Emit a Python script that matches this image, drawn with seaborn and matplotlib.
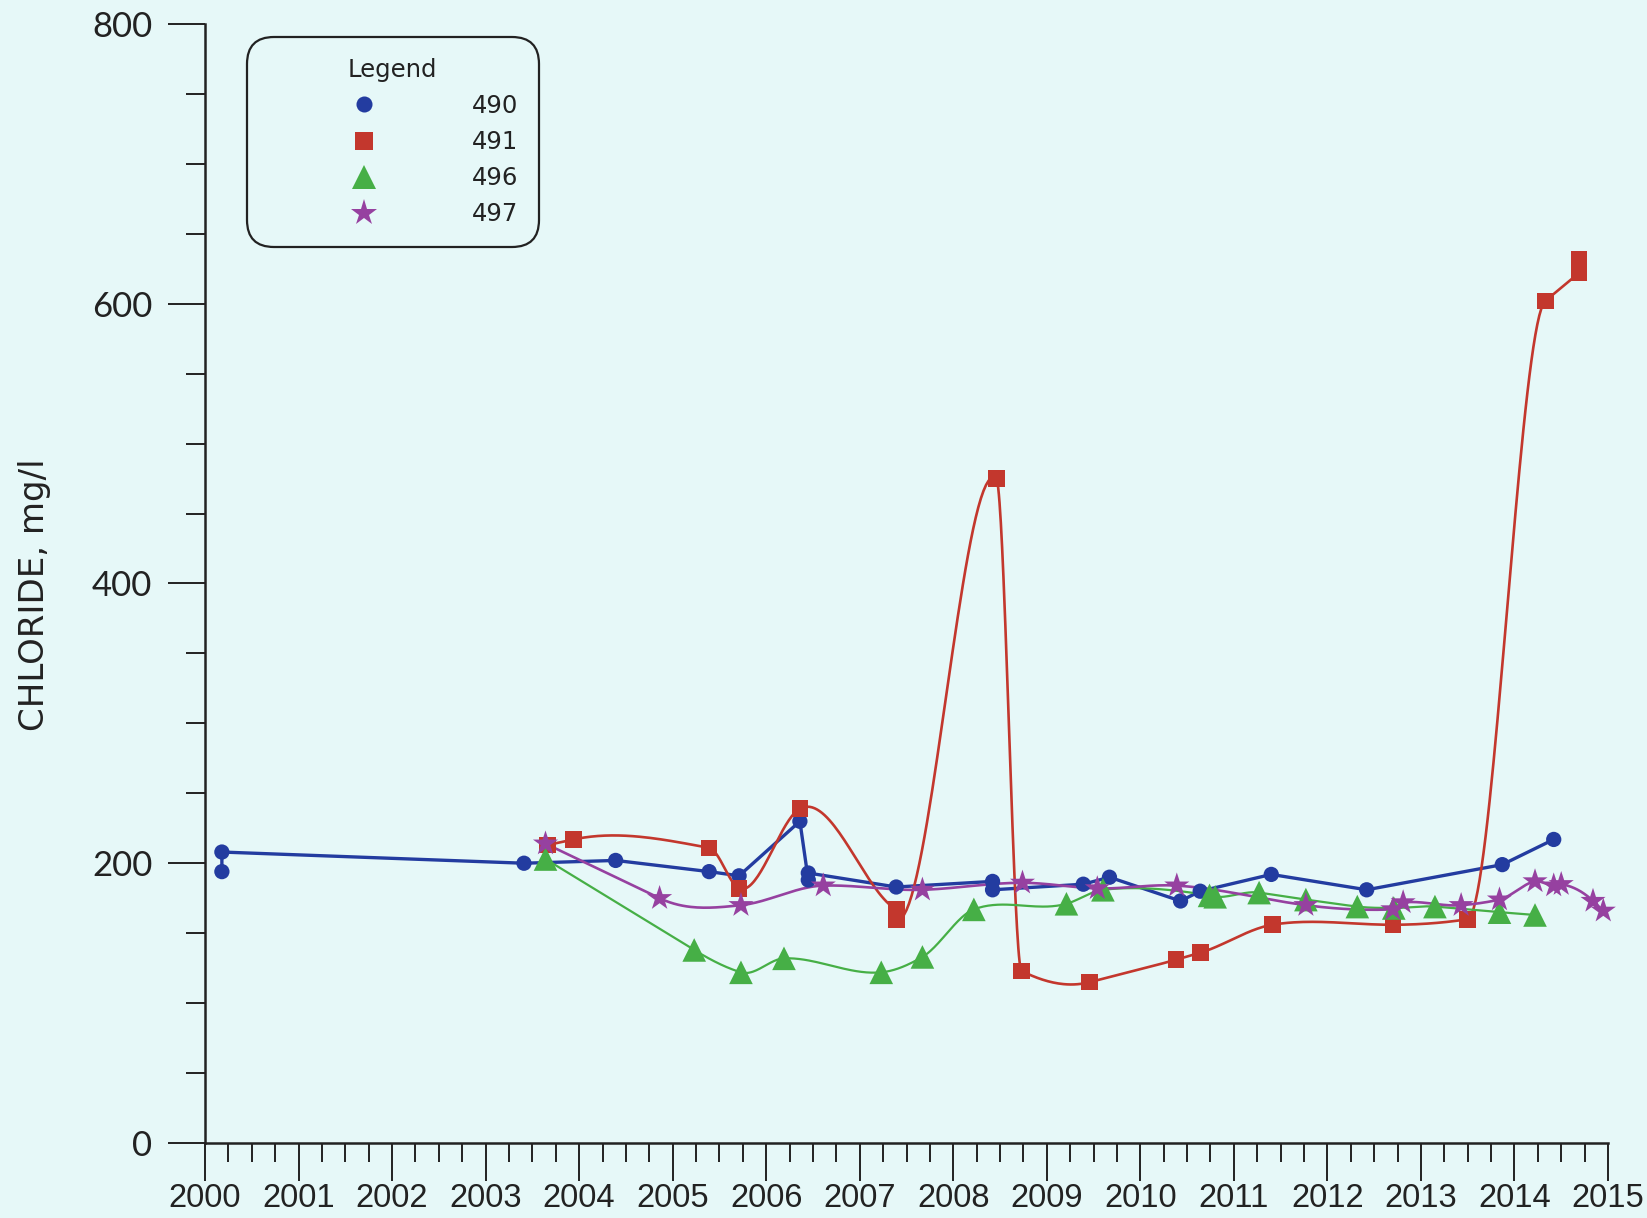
import numpy as np
import pandas as pd
import matplotlib
matplotlib.use('Agg')
import matplotlib.pyplot as plt
import seaborn as sns
from matplotlib.lines import Line2D
from matplotlib.ticker import MultipleLocator

# chloride samples per well (decimal year, mg/l)
dates_490 = [2000.18, 2000.18, 2003.41, 2004.39, 2005.39, 2005.71, 2006.36, 2006.45, 2006.45, 2007.39,
             2008.42, 2008.42, 2009.39, 2009.67, 2010.43, 2010.64, 2011.40, 2012.42, 2013.87, 2014.42]
chloride_490 = [194, 208, 200, 202, 194, 191, 230, 188, 193, 183,
                187, 181, 185, 190, 173, 180, 192, 181, 199, 217]

dates_491 = [2003.66, 2003.94, 2005.39, 2005.71, 2006.36, 2007.39, 2007.39, 2008.46, 2008.73,
             2009.46, 2010.38, 2010.64, 2011.41, 2012.70, 2013.50, 2014.33, 2014.69, 2014.69]
chloride_491 = [213, 217, 211, 182, 239, 167, 160, 475, 123,
                115, 131, 136, 156, 156, 160, 602, 622, 632]

dates_496 = [2003.64, 2005.23, 2005.73, 2006.19, 2007.23, 2007.67, 2008.22, 2009.21, 2009.60,
             2010.74, 2010.80, 2011.27, 2011.77, 2012.32, 2012.71, 2013.15, 2013.84, 2014.22]
chloride_496 = [203, 138, 122, 132, 122, 133, 167, 171, 181,
                177, 176, 179, 174, 169, 168, 169, 165, 163]

dates_497 = [2003.64, 2004.86, 2005.73, 2006.61, 2007.67, 2008.74, 2009.54, 2010.39, 2011.77,
             2012.70, 2012.81, 2013.43, 2013.84, 2014.22, 2014.42, 2014.50, 2014.84, 2014.95]
chloride_497 = [214, 175, 170, 184, 181, 186, 182, 184, 170,
                167, 172, 170, 174, 187, 184, 185, 173, 166]

wells = ['490', '491', '496', '497']
year_labels = [str(y) for y in range(2000, 2016)]

BG = '#e6f8f8'
styles = {
    '490': dict(color='#233ca0', marker='o', ms=11, lw=2.4, smooth=False),
    '491': dict(color='#c3372d', marker='s', ms=12, lw=1.9, smooth=True),
    '496': dict(color='#46af46', marker='^', ms=17, lw=1.6, smooth=True),
    '497': dict(color='#9641a0', marker='*', ms=19, lw=1.9, smooth=True),
}


def smooth_curve(xs, ys, n=40):
    # Akima-type curve for drawing the line; samples on the same date form a vertical step
    nx, yl, yr = [], [], []
    for x, y in zip(xs, ys):
        if nx and abs(x - nx[-1]) < 1e-9:
            yr[-1] = y
        else:
            nx.append(x); yl.append(y); yr.append(y)
    nx, yl, yr = np.array(nx), np.array(yl, float), np.array(yr, float)
    h = np.diff(nx)
    m = (yl[1:] - yr[:-1]) / h
    mm = np.concatenate([[m[0], m[0]], m, [m[-1], m[-1]]])
    t = []
    for i in range(len(nx)):
        a, b, c, d = mm[i], mm[i + 1], mm[i + 2], mm[i + 3]
        w1, w2 = abs(d - c), abs(b - a)
        t.append((w1 * b + w2 * c) / (w1 + w2) if w1 + w2 > 1e-9 else 0.5 * (b + c))
    px, py = [nx[0]], [yl[0]]
    s = np.linspace(0, 1, n)
    for i in range(len(h)):
        h00 = 2 * s**3 - 3 * s**2 + 1
        h10 = s**3 - 2 * s**2 + s
        h01 = -2 * s**3 + 3 * s**2
        h11 = s**3 - s**2
        px.extend(nx[i] + s * h[i])
        py.extend(h00 * yr[i] + h10 * h[i] * t[i] + h01 * yl[i + 1] + h11 * h[i] * t[i + 1])
    px.append(nx[-1]); py.append(yr[-1])
    return np.array(px), np.array(py)


df = pd.concat([
    pd.DataFrame({'date': d, 'chloride': c, 'well': w})
    for w, d, c in zip(wells, [dates_490, dates_491, dates_496, dates_497],
                       [chloride_490, chloride_491, chloride_496, chloride_497])
], ignore_index=True)

sns.set_style('ticks')
plt.rcParams['font.family'] = ['DejaVu Sans']

fig = plt.figure(figsize=(16.47, 12.18), dpi=100, facecolor=BG)
ax = fig.add_axes([0.1245, 0.0616, 0.8518, 0.9187])
ax.set_facecolor(BG)

for w in wells:
    st = styles[w]
    sub = df[df['well'] == w]
    if st['smooth']:
        lx, ly = smooth_curve(sub['date'].values, sub['chloride'].values)
    else:
        lx, ly = sub['date'].values, sub['chloride'].values
    sns.lineplot(x=lx, y=ly, sort=False, estimator=None, color=st['color'],
                 lw=st['lw'], ax=ax, zorder=2)

for w in wells:
    st = styles[w]
    sub = df[df['well'] == w]
    sns.scatterplot(data=sub, x='date', y='chloride', marker=st['marker'], s=st['ms']**2,
                    color=st['color'], edgecolor='none', linewidth=0, ax=ax,
                    zorder=3, clip_on=False, legend=False)

ax.set_xlim(2000, 2015)
ax.set_ylim(0, 800)
ax.xaxis.set_major_locator(MultipleLocator(1))
ax.xaxis.set_minor_locator(MultipleLocator(0.25))
ax.yaxis.set_major_locator(MultipleLocator(200))
ax.yaxis.set_minor_locator(MultipleLocator(50))
ax.set_xticks(range(2000, 2016))
ax.set_xticklabels(year_labels, fontfamily='Liberation Sans', fontsize=23.5, color='#222222')
ax.set_yticks([0, 200, 400, 600, 800])
ax.set_yticklabels(['0', '200', '400', '600', '800'], fontfamily='Lato', fontsize=25, color='#222222')

ax.tick_params(axis='both', which='major', length=27, width=1.4, color='#222222')
ax.tick_params(axis='both', which='minor', length=14, width=1.4, color='#222222')
ax.tick_params(axis='x', which='major', pad=2)
ax.tick_params(axis='y', which='major', pad=11)

sns.despine(ax=ax)
for side in ['left', 'bottom']:
    ax.spines[side].set_linewidth(1.8)
    ax.spines[side].set_color('#222222')

ax.set_xlabel('')
ax.set_ylabel('CHLORIDE, mg/l', fontsize=24.5, fontfamily='DejaVu Sans', color='#222222')
ax.yaxis.set_label_coords(-0.1098, 0.49)

handles = [Line2D([], [], ls='none', marker=styles[w]['marker'], color=styles[w]['color'],
                  markersize=styles[w]['ms'] * 1.05, markeredgewidth=0) for w in wells]
leg = ax.legend(handles, wells, title='Legend', loc='upper left',
                bbox_to_anchor=(0.030, 0.988), borderaxespad=0, frameon=True,
                fontsize=17.5, title_fontsize=17.5, borderpad=0.84, handlelength=7.9,
                handletextpad=0.5, labelspacing=0.5, facecolor=BG, framealpha=1,
                edgecolor='#222222', fancybox=True)
leg.get_frame().set_linewidth(1.6)
leg.get_frame().set_boxstyle('round', pad=0, rounding_size=1.1)
for txt in leg.get_texts():
    txt.set_color('#222222')
leg.get_title().set_color('#222222')

fig.savefig('out.png', dpi=100, facecolor=BG)
